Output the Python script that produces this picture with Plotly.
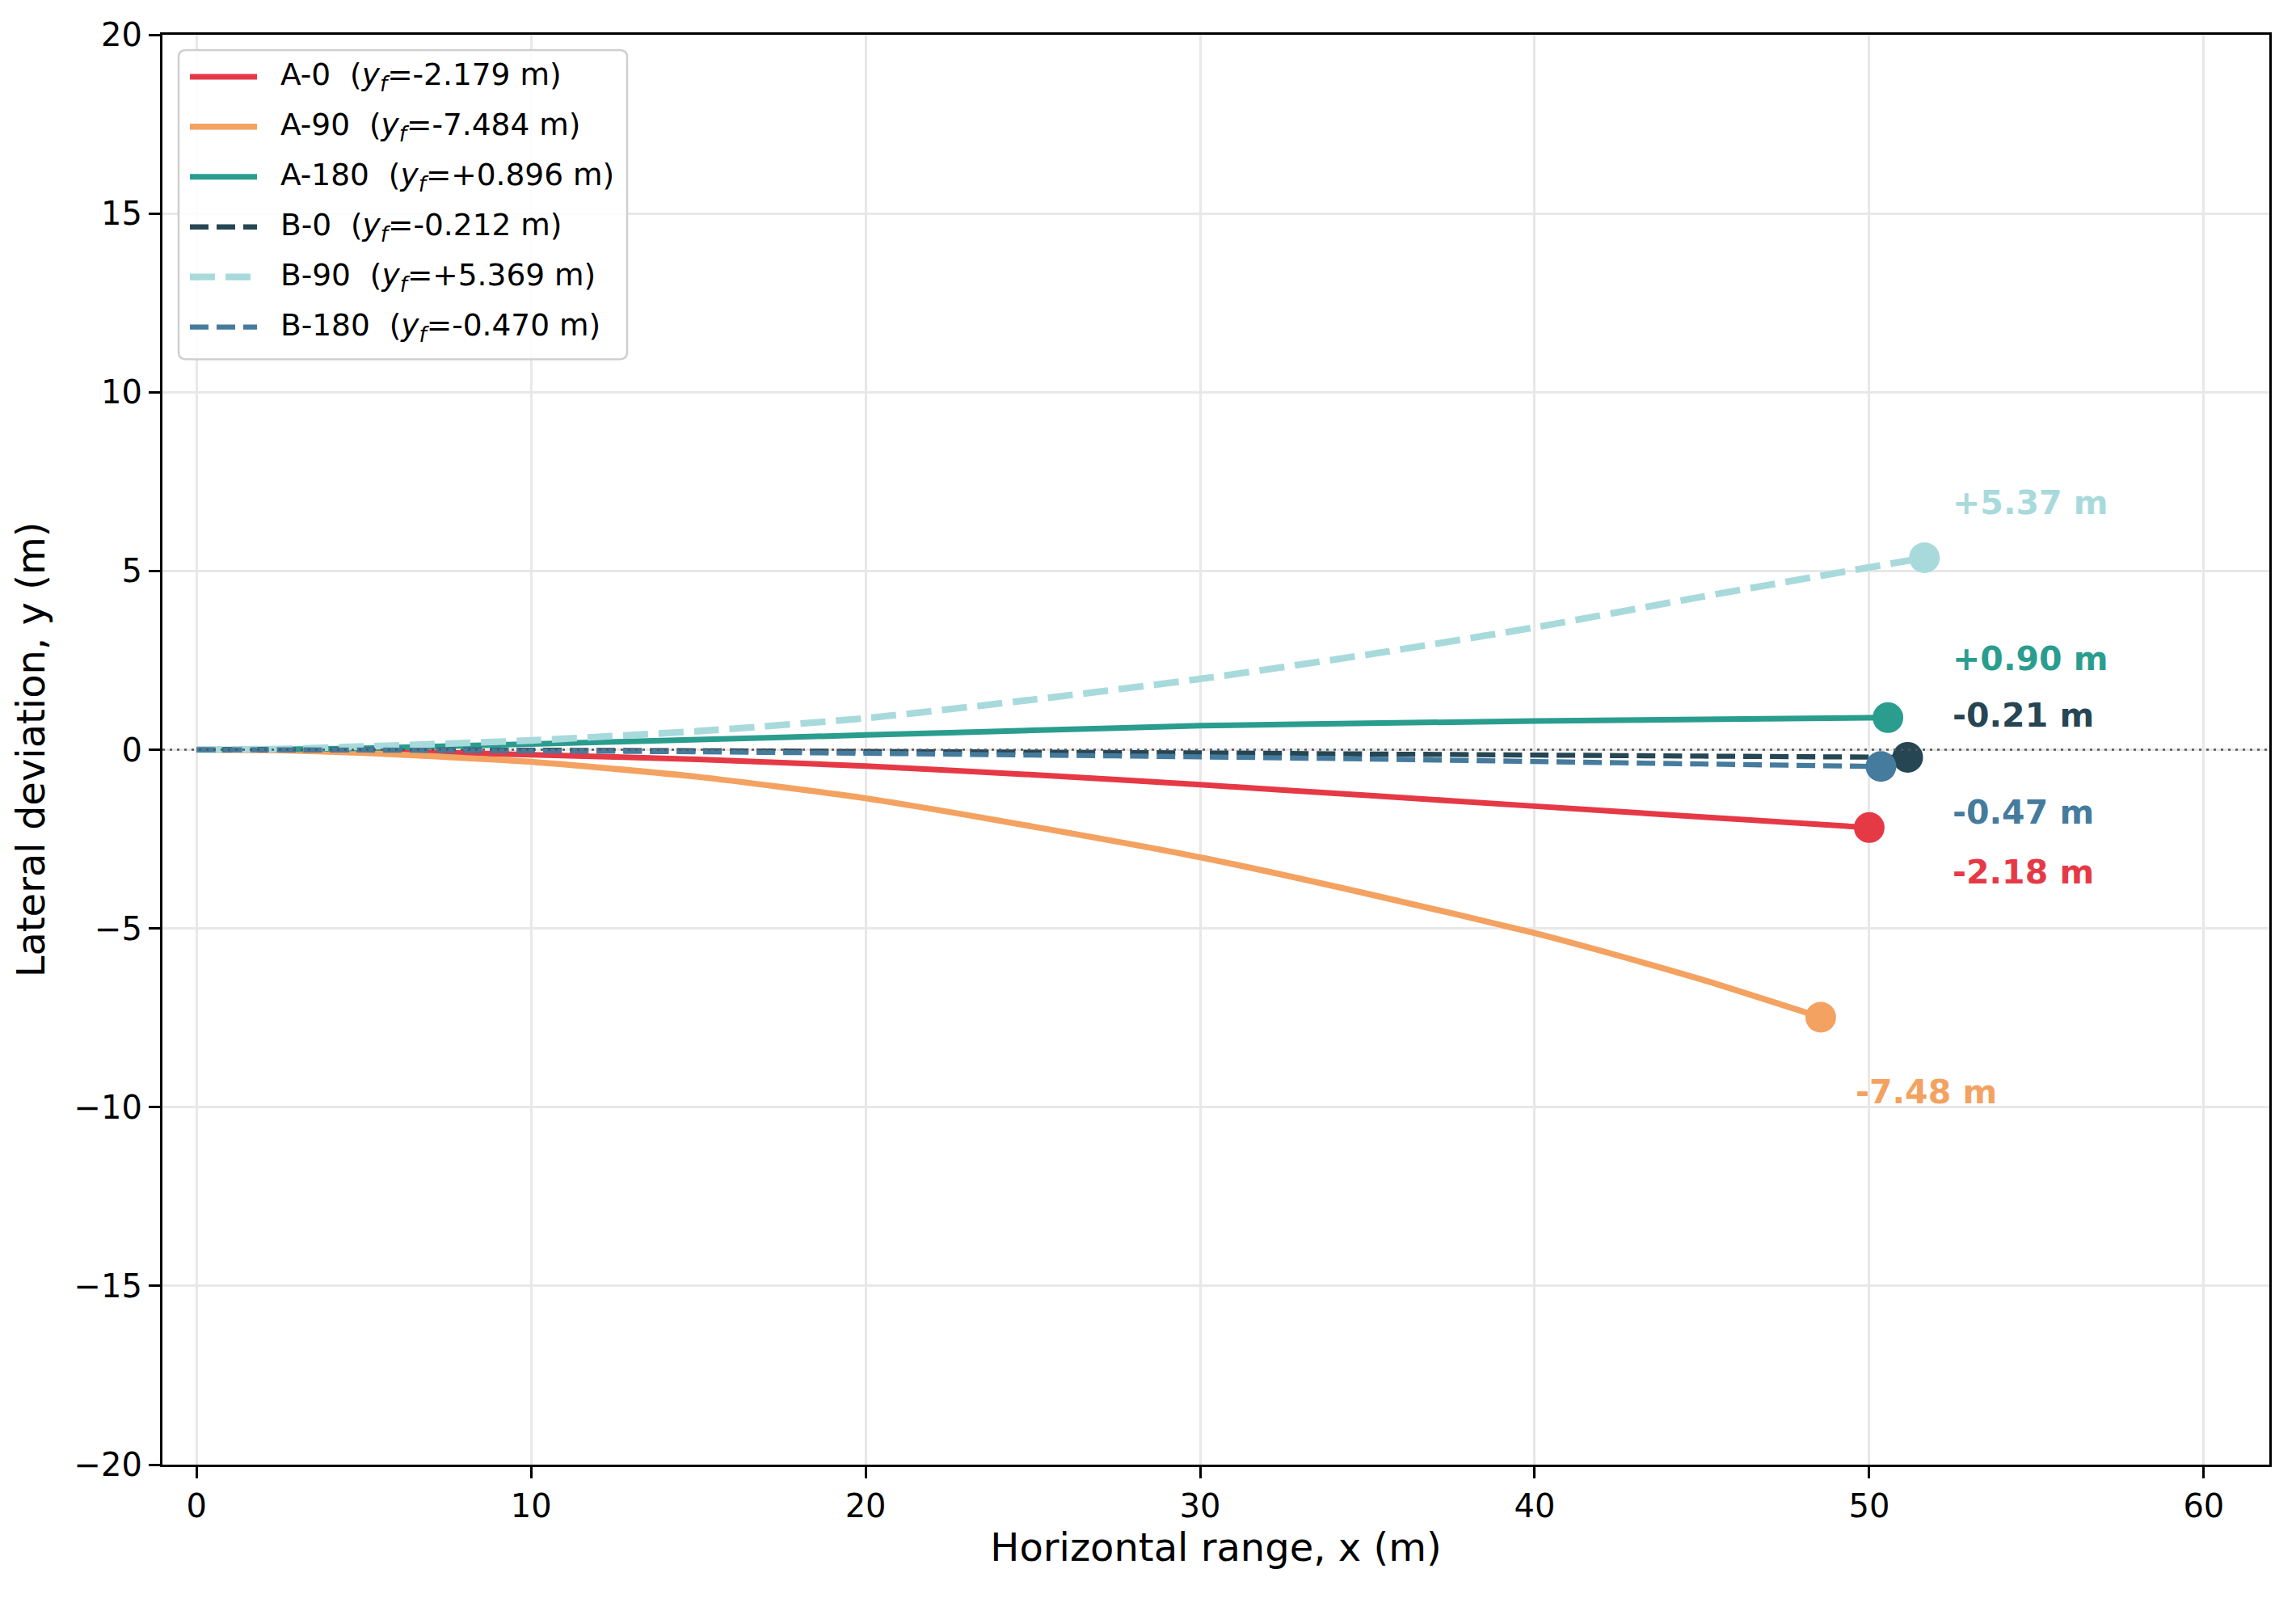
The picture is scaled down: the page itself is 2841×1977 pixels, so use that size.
import plotly.graph_objects as go

# trajectories (x in m, lateral y in m)
a0_x = [0, 2.5, 5, 10, 15, 20, 25, 30, 35, 40, 45, 50.0]
a0_y = [0, -0.005, -0.03, -0.14, -0.27, -0.46, -0.70, -0.98, -1.28, -1.58, -1.88, -2.179]

a90_x = [0, 2.5, 5, 10, 15, 20, 25, 30, 35, 40, 42.5, 45, 48.55]
a90_y = [0, -0.015, -0.09, -0.34, -0.76, -1.36, -2.15, -3.01, -4.03, -5.13, -5.76, -6.43, -7.484]

a180_x = [0, 2.5, 5, 10, 15, 20, 25, 30, 35, 40, 45, 50.56]
a180_y = [0, 0.01, 0.04, 0.16, 0.28, 0.41, 0.54, 0.67, 0.74, 0.80, 0.85, 0.896]

b0_x = [0, 5, 10, 15, 20, 25, 30, 35, 40, 45, 51.15]
b0_y = [0, -0.005, -0.015, -0.03, -0.05, -0.07, -0.09, -0.12, -0.15, -0.18, -0.212]

b90_x = [0, 2.5, 5, 10, 15, 20, 25, 30, 35, 40, 45, 51.65]
b90_y = [0, 0.02, 0.09, 0.26, 0.52, 0.88, 1.40, 1.98, 2.66, 3.42, 4.28, 5.369]

b180_x = [0, 5, 10, 15, 20, 25, 30, 35, 40, 45, 50.35]
b180_y = [0, -0.01, -0.03, -0.06, -0.10, -0.15, -0.20, -0.26, -0.33, -0.40, -0.470]

names = ["A-0", "A-90", "A-180", "B-0", "B-90", "B-180"]
final_y = ["-2.179", "-7.484", "+0.896", "-0.212", "+5.369", "-0.470"]
end_labels = ["-2.18 m", "-7.48 m", "+0.90 m", "-0.21 m", "+5.37 m", "-0.47 m"]
label_x = [52.45, 49.55, 52.45, 52.45, 52.45, 52.45]
label_y = [-3.42, -9.58, 2.54, 0.96, 6.90, -1.75]

colors = ["#E63946", "#F4A261", "#2A9D8F", "#264653", "#A8DADC", "#457B9D"]
widths = [7, 7.5, 7, 6.3, 8.3, 6.3]
dashes = ["solid", "solid", "solid", "23px,10px", "31px,13px", "23px,10px"]

y_ticks = [-20, -15, -10, -5, 0, 5, 10, 15, 20]
y_ticktext = ["\u221220", "\u221215", "\u221210", "\u22125", "0", "5", "10", "15", "20"]
x_ticks = [0, 10, 20, 30, 40, 50, 60]

series = [(a0_x, a0_y), (a90_x, a90_y), (a180_x, a180_y),
          (b0_x, b0_y), (b90_x, b90_y), (b180_x, b180_y)]

FONT = "DejaVu Sans"

# figure geometry in pixels (page has an 8px body margin)
W, H = 2833, 1969
ML, MR, MT, MB = 193, 33, 33, 165
PW, PH = W - ML - MR, H - MT - MB


def px(x):
    return (x - ML) / PW


def py(y):
    return (H - MB - y) / PH


fig = go.Figure()

for i, (xs, ys) in enumerate(series):
    fig.add_trace(go.Scatter(
        x=xs, y=ys, mode="lines", name=names[i], showlegend=False,
        line=dict(color=colors[i], width=widths[i], dash=dashes[i],
                  shape="spline", smoothing=0.6),
    ))
    fig.add_trace(go.Scatter(
        x=[xs[-1]], y=[ys[-1]], mode="markers", showlegend=False,
        hoverinfo="skip",
        marker=dict(color=colors[i], size=38, line=dict(width=0)),
    ))
    fig.add_annotation(
        x=label_x[i], y=label_y[i], text=f"<b>{end_labels[i]}</b>",
        showarrow=False, xanchor="left", yanchor="middle",
        font=dict(family=FONT, size=41, color=colors[i]),
    )

# dotted reference line at y = 0
fig.add_shape(type="line", xref="paper", x0=0, x1=1, yref="y", y0=0, y1=0,
              line=dict(color="#555555", width=2.5, dash="3px,6px"), layer="above")

# legend box drawn by hand so the handles match the original length
bx0, bx1, by0, by1, r = 213, 768, 52, 435, 9
rx, ry = r / PW, r / PH
x0, x1, y0, y1 = px(bx0), px(bx1), py(by1), py(by0)
box_path = (f"M {x0 + rx},{y0} L {x1 - rx},{y0} Q {x1},{y0} {x1},{y0 + ry} "
            f"L {x1},{y1 - ry} Q {x1},{y1} {x1 - rx},{y1} "
            f"L {x0 + rx},{y1} Q {x0},{y1} {x0},{y1 - ry} "
            f"L {x0},{y0 + ry} Q {x0},{y0} {x0 + rx},{y0} Z")
fig.add_shape(type="path", path=box_path, xref="paper", yref="paper",
              fillcolor="rgba(255,255,255,0.85)", line=dict(color="#cfcfcf", width=2.5),
              layer="above")

row0, row_gap = 85, 62
for i in range(len(names)):
    yy = py(row0 + i * row_gap)
    fig.add_shape(type="line", xref="paper", yref="paper",
                  x0=px(227), x1=px(310), y0=yy, y1=yy,
                  line=dict(color=colors[i], width=widths[i], dash=dashes[i]),
                  layer="above")
    fig.add_annotation(
        x=px(337), y=yy, xref="paper", yref="paper", showarrow=False,
        xanchor="left", yanchor="middle",
        text=f"{names[i]}\u00a0 (<i>y</i><sub><i>f</i></sub>={final_y[i]} m)",
        font=dict(family=FONT, size=37.5, color="black"),
    )

axis_common = dict(
    showline=True, linecolor="black", linewidth=3.3, mirror=True,
    ticks="outside", ticklen=14, tickwidth=3.3, tickcolor="black",
    showgrid=True, gridcolor="#e8e8e8", gridwidth=2.5, zeroline=False,
    tickfont=dict(family=FONT, size=40, color="black"),
)

fig.update_xaxes(range=[-1.02, 61.96], tickvals=x_ticks,
                 title=dict(text="Horizontal range, x (m)", standoff=13,
                            font=dict(family=FONT, size=48, color="black")),
                 **axis_common)
fig.update_yaxes(range=[-20, 20], tickvals=y_ticks, ticktext=y_ticktext,
                 title=dict(text="Lateral deviation, y (m)", standoff=21,
                            font=dict(family=FONT, size=48, color="black")),
                 **axis_common)

fig.update_layout(
    width=W, height=H,
    margin=dict(l=ML, r=MR, t=MT, b=MB),
    plot_bgcolor="white", paper_bgcolor="white",
    font=dict(family=FONT, color="black"),
    showlegend=False,
)

fig.write_html("out.html")
